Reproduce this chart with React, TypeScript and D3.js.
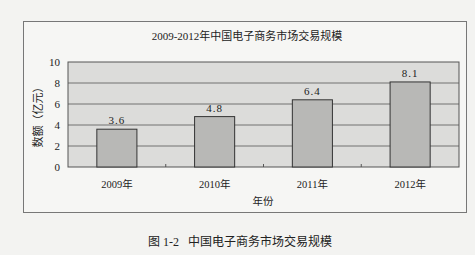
import React from "react";
import * as d3 from "d3";

const years = ["2009年", "2010年", "2011年", "2012年"];
const values = [3.6, 4.8, 6.4, 8.1];
const yTicks = [0, 2, 4, 6, 8, 10];
const title = "2009-2012年中国电子商务市场交易规模";
const yLabel = "数额（亿元）";
const xLabel = "年份";
const caption = "图 1-2   中国电子商务市场交易规模";

const W = 475;
const H = 255;
const plot = { left: 68, right: 459, top: 62, bottom: 167 };
const FONT = "'Liberation Serif', 'Noto Sans CJK SC', serif";

export default function App() {
  const x = d3
    .scaleBand<string>()
    .domain(years)
    .range([plot.left, plot.right])
    .paddingInner(0.59)
    .paddingOuter(0.295);
  const bandStep = (plot.right - plot.left) / years.length;
  const y = d3.scaleLinear().domain([0, 10]).range([plot.bottom, plot.top]);

  return (
    <svg
      width={W}
      height={H}
      style={{ position: "absolute", left: 0, top: 0 }}
      fontFamily={FONT}
    >
      <rect x={0} y={0} width={W} height={H} fill="#f3f3f1" />
      <rect x={23.5} y={21.5} width={443} height={191} fill="#f6f6f4" stroke="#777" strokeWidth={1} />
      <text x={247} y={40} textAnchor="middle" fontSize={11} fill="#222">
        {title}
      </text>
      <rect
        x={plot.left}
        y={plot.top}
        width={plot.right - plot.left}
        height={plot.bottom - plot.top}
        fill="#dcdcda"
        stroke="#555"
        strokeWidth={1}
      />
      {yTicks.map((t) => (
        <g key={t}>
          {t > 0 && t < 10 && (
            <line x1={plot.left} x2={plot.right} y1={y(t)} y2={y(t)} stroke="#555" strokeWidth={0.8} />
          )}
          <text x={60} y={y(t) + 4} textAnchor="end" fontSize={11} fill="#222">
            {t}
          </text>
        </g>
      ))}
      {years.slice(1).map((yr, i) => (
        <line
          key={yr}
          x1={plot.left + bandStep * (i + 1)}
          x2={plot.left + bandStep * (i + 1)}
          y1={plot.bottom}
          y2={plot.bottom - 3}
          stroke="#555"
        />
      ))}
      {years.map((yr, i) => (
        <g key={yr}>
          <rect
            x={x(yr)}
            y={y(values[i])}
            width={x.bandwidth()}
            height={plot.bottom - y(values[i])}
            fill="#b8b8b6"
            stroke="#333"
            strokeWidth={1}
          />
          <text
            x={(x(yr) as number) + x.bandwidth() / 2}
            y={y(values[i]) - 5}
            textAnchor="middle"
            fontSize={11}
            letterSpacing={1}
            fill="#222"
          >
            {values[i].toFixed(1)}
          </text>
          <text
            x={(x(yr) as number) + x.bandwidth() / 2}
            y={188}
            textAnchor="middle"
            fontSize={10.5}
            fill="#222"
          >
            {yr}
          </text>
        </g>
      ))}
      <text x={263} y={205} textAnchor="middle" fontSize={10.5} fill="#222">
        {xLabel}
      </text>
      <text
        transform={`translate(42, ${(plot.top + plot.bottom) / 2}) rotate(-90)`}
        textAnchor="middle"
        fontSize={11}
        fill="#222"
      >
        {yLabel}
      </text>
      <text x={148} y={246} fontSize={12} fill="#222" style={{ whiteSpace: "pre" }}>
        {caption}
      </text>
    </svg>
  );
}
